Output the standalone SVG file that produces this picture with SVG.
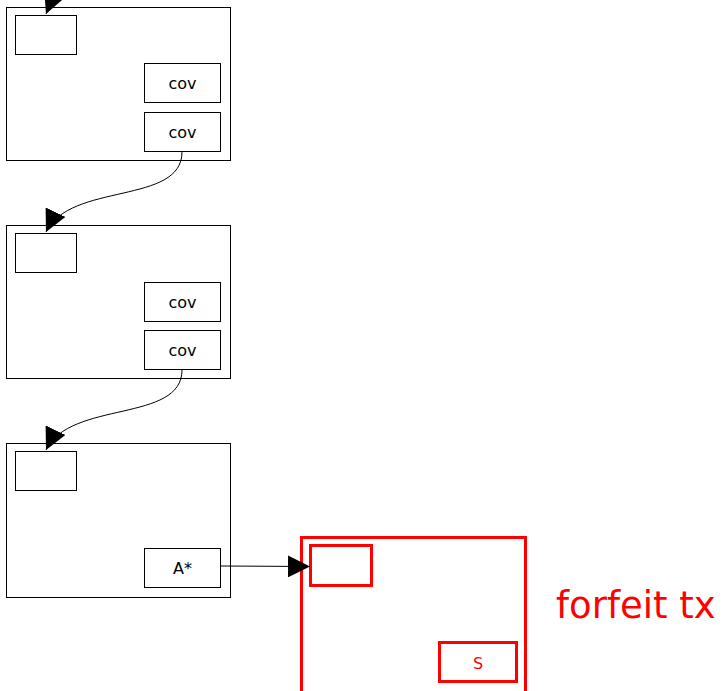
<svg xmlns="http://www.w3.org/2000/svg" width="724" height="691" viewBox="0 0 724 691">
<defs>
<marker id="ah" markerWidth="24" markerHeight="22" refX="22" refY="11" orient="auto" markerUnits="userSpaceOnUse">
<path d="M0,0 L22,11 L0,22 Z" fill="#000"/>
</marker>
<style>
.box{fill:#fff;stroke:#000;stroke-width:1}
.rbox{fill:#fff;stroke:#f00;stroke-width:3}
.t{font-family:"DejaVu Sans",sans-serif;font-size:16px;text-anchor:middle;fill:#000}
.rt{font-family:"DejaVu Sans",sans-serif;font-size:16px;text-anchor:middle;fill:#f00}
.edge{fill:none;stroke:#000;stroke-width:1}
</style>
</defs>
<rect width="724" height="691" fill="#fff"/>
<g id="node1">
<rect class="box" x="6.5" y="7.5" width="224" height="153"/>
<rect class="box" x="15.5" y="15.5" width="61" height="39"/>
<rect class="box" x="144.5" y="63.5" width="76" height="39"/>
<text class="t" x="182.5" y="89">cov</text>
<rect class="box" x="144.5" y="112.5" width="76" height="39"/>
<text class="t" x="182.5" y="138">cov</text>
</g>
<g id="node2">
<rect class="box" x="6.5" y="225.5" width="224" height="153"/>
<rect class="box" x="15.5" y="233.5" width="61" height="39"/>
<rect class="box" x="144.5" y="282.5" width="76" height="39"/>
<text class="t" x="182.5" y="308">cov</text>
<rect class="box" x="144.5" y="330.5" width="76" height="39"/>
<text class="t" x="182.5" y="356">cov</text>
</g>
<g id="node3">
<rect class="box" x="6.5" y="443.5" width="224" height="154"/>
<rect class="box" x="15.5" y="451.5" width="61" height="39"/>
<rect class="box" x="144.5" y="548.5" width="76" height="39"/>
<text class="t" x="182.5" y="574">A*</text>
</g>
<g id="node4">
<rect class="rbox" x="301.5" y="537.5" width="224" height="157"/>
<rect class="rbox" x="310.5" y="545.5" width="61" height="40"/>
<rect class="rbox" x="439.5" y="642.5" width="77" height="39"/>
<text class="rt" x="478" y="669">S</text>
</g>
<g id="label">
<text x="556" y="618" font-family="DejaVu Sans, sans-serif" font-size="37" fill="#f00">forfeit tx</text>
</g>
<g id="connectors">
<path class="edge" d="M60,-20 L46,14" marker-end="url(#ah)"/>
<path class="edge" d="M182,152 C182,205 70,182 46,232" marker-end="url(#ah)"/>
<path class="edge" d="M182,370 C182,423 70,400 46,450" marker-end="url(#ah)"/>
<path class="edge" d="M221,566 L310,566.5" marker-end="url(#ah)"/>
</g>
</svg>
